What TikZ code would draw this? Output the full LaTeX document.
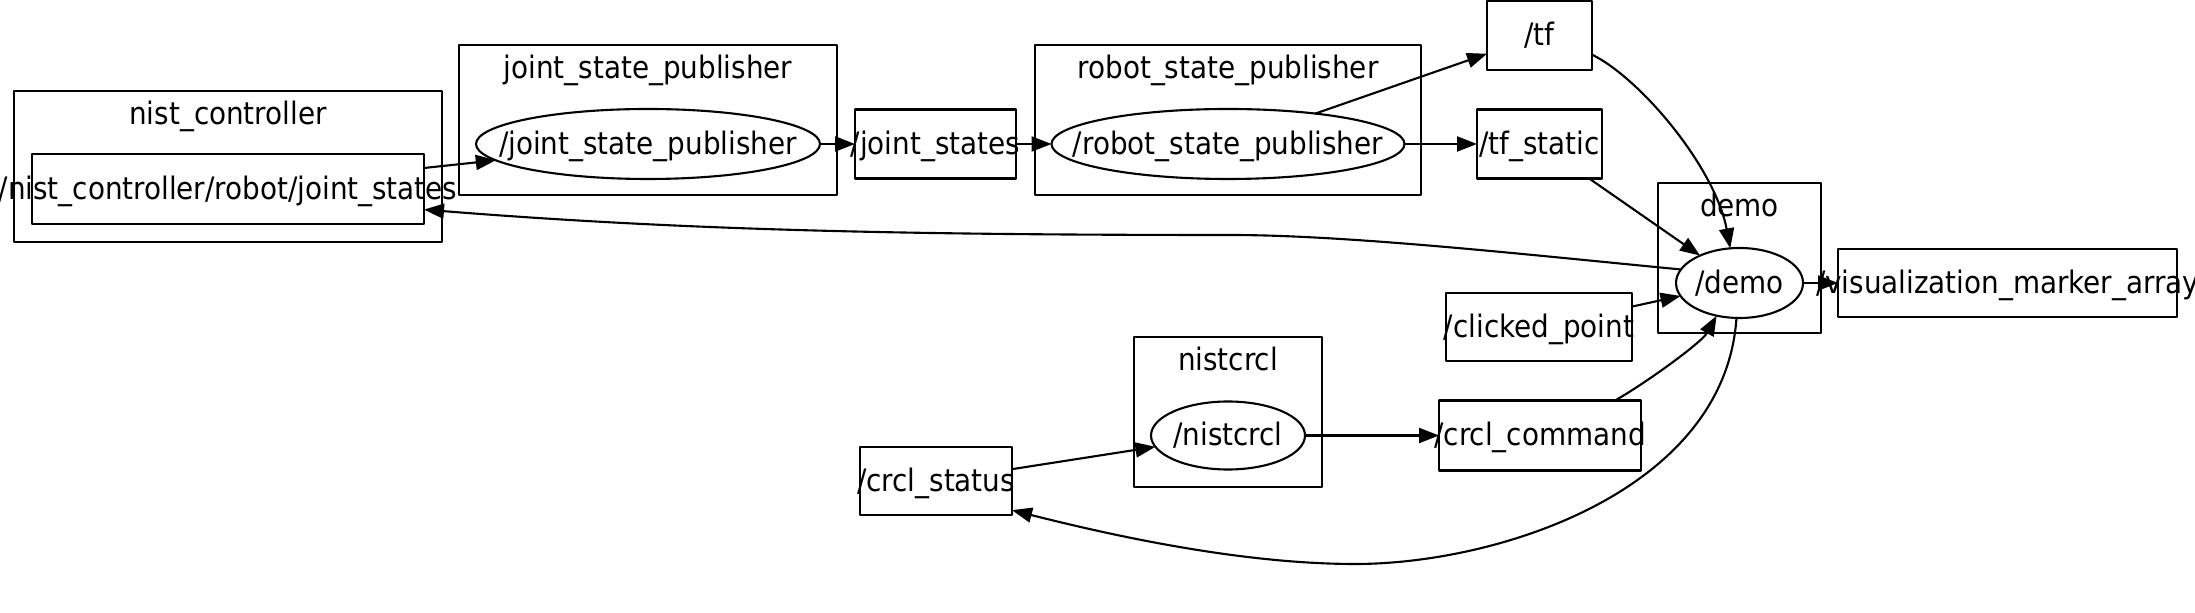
\documentclass[tikz,border=0pt]{standalone}
\usepackage{fontspec}
\setmainfont{DejaVu Sans Condensed}
\usepackage{tikz}
\usetikzlibrary{arrows.meta,shapes.geometric}
\newcommand{\tname}[1]{\makebox[0pt]{#1}}

\begin{document}
\begin{tikzpicture}[line join = round, line cap = round,
    font=\fontsize{8.8pt}{10pt}\selectfont,
    every node/.style={inner sep=0pt, outer sep=0pt},
    cluster/.style={draw, line width=0.75pt, rectangle},
    topic/.style={draw, line width=0.6pt, rectangle, text height=0.27cm, text depth=0.06cm},
    rosnode/.style={draw, line width=0.6pt, ellipse, text height=0.27cm, text depth=0.06cm},
    edge/.style={line width=0.6pt, -{Triangle[length=0.2cm,width=0.15cm]}}]

                        \useasboundingbox (0,0) rectangle (21.95,-6.13);

                        % clusters
                        \node[cluster, minimum width=4.28cm, minimum height=1.51cm] (nist) at (2.28,-1.665) {};
                        \node[cluster, minimum width=3.78cm, minimum height=1.50cm] (jspc) at (6.48,-1.20) {};
                        \node[cluster, minimum width=3.86cm, minimum height=1.50cm] (rspc) at (12.28,-1.20) {};
                        \node[cluster, minimum width=1.63cm, minimum height=1.50cm] (democ) at (17.395,-2.58) {};
                        \node[cluster, minimum width=1.88cm, minimum height=1.50cm] (crclc) at (12.28,-4.12) {};
                        \node[anchor=base] (nistlbl) at ([yshift=-0.34cm]nist.north) {nist\_controller};
                        \node[anchor=base] (jspclbl) at ([yshift=-0.34cm]jspc.north) {joint\_state\_publisher};
                        \node[anchor=base] (rspclbl) at ([yshift=-0.34cm]rspc.north) {robot\_state\_publisher};
                        \node[anchor=base] (democlbl) at ([yshift=-0.34cm]democ.north) {demo};
                        \node[anchor=base] (crclclbl) at ([yshift=-0.34cm]crclc.north) {nistcrcl};

                        % nodes
                        \node[rosnode, minimum width=3.44cm, minimum height=0.70cm] (jsp) at (6.48,-1.44) {\tname{/joint\_state\_publisher}};
                        \node[rosnode, minimum width=3.53cm, minimum height=0.70cm] (rsp) at (12.28,-1.44) {\tname{/robot\_state\_publisher}};
                        \node[rosnode, minimum width=1.27cm, minimum height=0.70cm] (demo) at (17.395,-2.83) {\tname{/demo}};
                        \node[rosnode, minimum width=1.54cm, minimum height=0.68cm] (crcl) at (12.28,-4.355) {\tname{/nistcrcl}};

                        % topics
                        \node[topic, minimum width=3.92cm, minimum height=0.70cm] (njs) at (2.28,-1.89) {\tname{/nist\_controller/robot/joint\_states}};
                        \node[topic, minimum width=1.61cm, minimum height=0.69cm] (js) at (9.355,-1.44) {\tname{/joint\_states}};
                        \node[topic, minimum width=1.05cm, minimum height=0.69cm] (tf) at (15.395,-0.355) {\tname{/tf}};
                        \node[topic, minimum width=1.25cm, minimum height=0.69cm] (tfs) at (15.395,-1.44) {\tname{/tf\_static}};
                        \node[topic, minimum width=3.39cm, minimum height=0.68cm] (vma) at (20.075,-2.83) {\tname{/visualization\_marker\_array}};
                        \node[topic, minimum width=1.86cm, minimum height=0.68cm] (cp) at (15.39,-3.27) {\tname{/clicked\_point}};
                        \node[topic, minimum width=2.02cm, minimum height=0.70cm] (cc) at (15.40,-4.355) {\tname{/crcl\_command}};
                        \node[topic, minimum width=1.52cm, minimum height=0.68cm] (cs) at (9.36,-4.81) {\tname{/crcl\_status}};

                        % edges
                        \draw[edge] (njs) -- (jsp);
                        \draw[edge] (jsp) -- (js);
                        \draw[edge] (js) -- (rsp);
                        \draw[edge] (rsp) -- (tf);
                        \draw[edge] (rsp) -- (tfs);
                        \draw[edge] (tf.-20) .. controls +(0.5,-0.25) and +(-0.15,0.8) .. (demo.105);
                        \draw[edge] (tfs) -- (demo);
                        \draw[edge] (cp) -- (demo);
                        \draw[edge] (demo) -- (vma);
                        \draw[edge] (cc.25) .. controls +(0.3,0.17) and +(-0.15,-0.27) .. (demo.235);
                        \draw[edge] (demo.167) .. controls (15.3,-2.55) and (13.5,-2.35) .. (12.3,-2.35)
                            .. controls (9.0,-2.35) and (6.8,-2.3) .. (njs.-6);
                        \draw[edge] (demo.265) .. controls (17.25,-4.9) and (15.0,-5.64) .. (13.55,-5.64)
                            .. controls (12.4,-5.64) and (11.1,-5.35) .. (cs.-21);
                        \draw[edge] (cs) -- (crcl);
                        \draw[edge] (crcl) -- (cc);

                    \end{tikzpicture}
\end{document}
